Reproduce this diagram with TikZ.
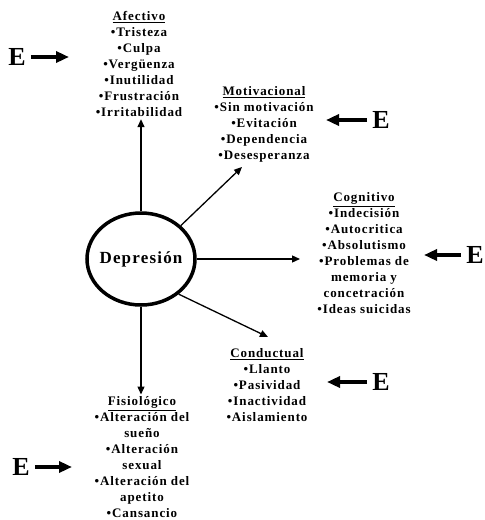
\documentclass[tikz,border=0pt]{standalone}
\usepackage{fontspec}
\setmainfont{Liberation Serif}[LetterSpace=7]
\usetikzlibrary{arrows.meta,shapes.geometric}

\tikzset{
	lista/.style={align=center, anchor=north, inner sep=2pt,
		font=\bfseries\fontsize{13}{16}\selectfont},
	flecha/.style={-{Triangle[length=8pt,width=7pt]}, line width=1.3pt},
	entrada/.style={-{Triangle[length=13pt,width=11pt]}, line width=3.5pt},
	letrae/.style={inner sep=0pt, font=\bfseries\fontsize{26}{26}\selectfont}
}

\begin{document}
\begin{tikzpicture}[x=1pt,y=-1pt]
	\useasboundingbox (0,0) rectangle (485,520);
	
	\node[draw, ellipse, line width=3.5pt, inner xsep=-5pt, inner ysep=0pt,
		minimum width=108pt, minimum height=92pt,
		font=\bfseries\fontsize{17}{17}\selectfont] (dep) at (141,259) {Depresión};
	
	% bloques de sintomas
	\node[lista] (afe) at (139,9.5) {\underline{Afectivo}\\ •Tristeza\\ •Culpa\\ •Vergüenza\\
		•Inutilidad\\ •Frustración\\ •Irritabilidad};
	\node[lista] (mot) at (264,84.5) {\underline{Motivacional}\\ •Sin motivación\\ •Evitación\\
		•Dependencia\\ •Desesperanza};
	\node[lista] (cog) at (364,190.5) {\underline{Cognitivo}\\ •Indecisión\\ •Autocritica\\
		•Absolutismo\\ •Problemas de\\ memoria y\\ concetración\\ •Ideas suicidas};
	\node[lista] (con) at (267,346.5) {\underline{Conductual}\\ •Llanto\\ •Pasividad\\
		•Inactividad\\ •Aislamiento};
	\node[lista] (fis) at (142,394.5) {\underline{Fisiológico}\\ •Alteración del\\ sueño\\
		•Alteración\\ sexual\\ •Alteración del\\ apetito\\ •Cansancio};
	
	\coordinate (tmot) at (242,167);
	\coordinate (tcog) at (300,259);
	\coordinate (tcon) at (268,337);
	
	\draw[flecha] (dep.north) -- (dep.north |- afe.south);
	\draw[flecha] (dep.40) -- (tmot);
	\draw[flecha] (dep.east) -- (tcog);
	\draw[flecha] (dep.-43) -- (tcon);
	\draw[flecha] (dep.south) -- (dep.south |- fis.north);
	
	% entradas E
	\node[letrae] (e1) at (17,57) {E};
	\node[letrae] (e2) at (381,120) {E};
	\node[letrae] (e3) at (475,255) {E};
	\node[letrae] (e4) at (381,382) {E};
	\node[letrae] (e5) at (21,467) {E};
	
	\coordinate (f1) at (69,57);
	\coordinate (f2) at (326,120);
	\coordinate (f3) at (424,255);
	\coordinate (f4) at (327,382);
	\coordinate (f5) at (72,467);
	
	\draw[entrada] (e1.east) ++(5,0) -- (f1);
	\draw[entrada] (e2.west) ++(-5,0) -- (f2);
	\draw[entrada] (e3.west) ++(-5,0) -- (f3);
	\draw[entrada] (e4.west) ++(-5,0) -- (f4);
	\draw[entrada] (e5.east) ++(5,0) -- (f5);
	
\end{tikzpicture}
\end{document}
